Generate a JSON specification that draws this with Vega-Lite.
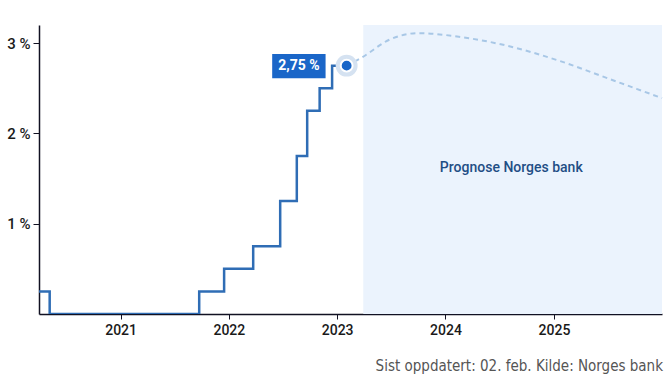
{
  "$schema": "https://vega.github.io/schema/vega-lite/v6.json",
  "autosize": "none",
  "width": 623,
  "height": 289,
  "padding": {"left": 39, "top": 25, "right": 7, "bottom": 78},
  "background": "white",
  "config": {
    "font": "Roboto, sans-serif",
    "view": {"stroke": null}
  },
  "title": {
    "text": "Sist oppdatert: 02. feb. Kilde: Norges bank",
    "orient": "bottom",
    "anchor": "end",
    "font": "DejaVu Sans Condensed",
    "fontSize": 15,
    "fontWeight": "normal",
    "color": "#555555",
    "offset": 22,
    "dx": -3
  },
  "datasets": {
    "rate": [
      {"date": "2020-04-01", "rate": 0.25},
      {"date": "2020-05-07", "rate": 0},
      {"date": "2021-09-23", "rate": 0.25},
      {"date": "2021-12-16", "rate": 0.5},
      {"date": "2022-03-24", "rate": 0.75},
      {"date": "2022-06-23", "rate": 1.25},
      {"date": "2022-08-18", "rate": 1.75},
      {"date": "2022-09-22", "rate": 2.25},
      {"date": "2022-11-03", "rate": 2.5},
      {"date": "2022-12-15", "rate": 2.75},
      {"date": "2023-02-02", "rate": 2.75}
    ],
    "forecast": [
      {"date": "2023-02-02", "rate": 2.75},
      {"date": "2023-03-25", "rate": 2.84},
      {"date": "2023-06-28", "rate": 3.04},
      {"date": "2023-10-01", "rate": 3.11},
      {"date": "2024-02-15", "rate": 3.07},
      {"date": "2024-07-01", "rate": 2.99},
      {"date": "2025-01-22", "rate": 2.8},
      {"date": "2025-07-09", "rate": 2.6},
      {"date": "2025-12-31", "rate": 2.39}
    ],
    "shade": [{"start": "2023-03-30", "end": "2025-12-31", "lo": 0, "hi": 3.2, "label": "Prognose Norges bank", "ldate": "2024-08-10", "ly": 1.62}],
    "point": [{"date": "2023-02-02", "rate": 2.75, "label": "2,75 %", "bx": "2022-05-27", "bx2": "2022-11-23", "by": 2.88, "by2": 2.61, "lx": "2022-08-25", "ly": 2.745}]
  },
  "layer": [
    {
      "data": {"name": "shade"},
      "mark": {"type": "rect", "color": "#ebf3fd"},
      "encoding": {
        "x": {"field": "start", "type": "temporal"},
        "x2": {"field": "end"},
        "y": {"field": "lo", "type": "quantitative"},
        "y2": {"field": "hi"}
      }
    },
    {
      "data": {"name": "shade"},
      "mark": {"type": "text", "color": "#1f4e85", "font": "Roboto", "fontSize": 14, "fontWeight": 500, "align": "center", "baseline": "middle"},
      "encoding": {
        "x": {"field": "ldate", "type": "temporal"},
        "y": {"field": "ly", "type": "quantitative"},
        "text": {"field": "label"}
      }
    },
    {
      "data": {"name": "forecast"},
      "mark": {"type": "line", "interpolate": "monotone", "color": "#a8c7e6", "strokeWidth": 2, "strokeDash": [5, 4]},
      "encoding": {
        "x": {"field": "date", "type": "temporal"},
        "y": {"field": "rate", "type": "quantitative"}
      }
    },
    {
      "data": {"name": "rate"},
      "mark": {"type": "line", "interpolate": "step-after", "color": "#2f6db5", "strokeWidth": 2.5, "clip": true},
      "encoding": {
        "x": {
          "field": "date",
          "type": "temporal",
          "scale": {"domain": ["2020-04-01", "2025-12-31"]},
          "axis": {
            "title": null,
            "format": "%Y",
            "tickCount": {"interval": "year", "step": 1},
            "grid": false,
            "domainColor": "#111122",
            "domainWidth": 1.5,
            "tickColor": "#111122",
            "tickSize": 5,
            "labelFont": "Roboto",
            "labelFontWeight": 500,
            "labelFontSize": 14,
            "labelColor": "#1a1a1a",
            "labelPadding": 4
          }
        },
        "y": {
          "field": "rate",
          "type": "quantitative",
          "scale": {"domain": [0, 3.2], "nice": false},
          "axis": {
            "title": null,
            "values": [1, 2, 3],
            "labelExpr": "datum.value + ' %'",
            "grid": false,
            "domainColor": "#111122",
            "domainWidth": 1.5,
            "tickColor": "#111122",
            "tickSize": 6,
            "labelFont": "Roboto",
            "labelFontWeight": 500,
            "labelFontSize": 15,
            "labelColor": "#1a1a1a",
            "labelPadding": 3
          }
        }
      }
    },
    {
      "data": {"name": "point"},
      "mark": {"type": "rect", "color": "#1a66c8"},
      "encoding": {
        "x": {"field": "bx", "type": "temporal"},
        "x2": {"field": "bx2"},
        "y": {"field": "by", "type": "quantitative"},
        "y2": {"field": "by2"}
      }
    },
    {
      "data": {"name": "point"},
      "mark": {"type": "text", "color": "white", "font": "Roboto", "fontSize": 14, "fontWeight": "bold", "align": "center", "baseline": "middle"},
      "encoding": {
        "x": {"field": "lx", "type": "temporal"},
        "y": {"field": "ly", "type": "quantitative"},
        "text": {"field": "label"}
      }
    },
    {
      "data": {"name": "point"},
      "mark": {"type": "circle", "color": "#d5e2f1", "opacity": 1, "size": 480},
      "encoding": {
        "x": {"field": "date", "type": "temporal"},
        "y": {"field": "rate", "type": "quantitative"}
      }
    },
    {
      "data": {"name": "point"},
      "mark": {"type": "circle", "color": "#1a66c8", "opacity": 1, "size": 140, "stroke": "white", "strokeWidth": 2},
      "encoding": {
        "x": {"field": "date", "type": "temporal"},
        "y": {"field": "rate", "type": "quantitative"}
      }
    }
  ]
}
